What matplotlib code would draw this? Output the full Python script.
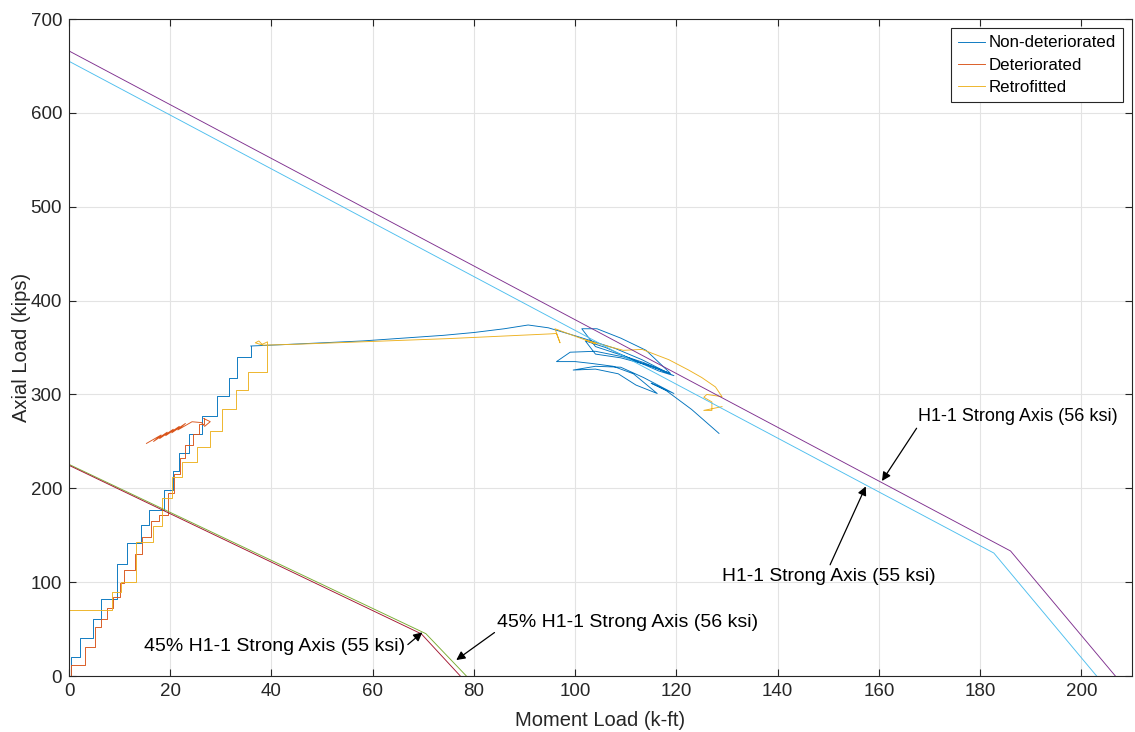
import numpy as np
import matplotlib
matplotlib.use("Agg")
import matplotlib.pyplot as plt

plt.rcParams['font.family'] = ['Liberation Sans', 'DejaVu Sans']

# ---- Non-deteriorated column response ----
nd_step_x = [0, 0.3, 2.2, 4.7, 6.4, 9.4, 11.4, 14.2, 15.9, 18.7, 20.5, 21.8, 23.8, 26.3, 29.3, 31.6, 33.2, 35.9]
nd_step_y = [0, 20.6, 40, 60.7, 82, 119.3, 142, 160.5, 177, 198, 218, 238, 257.5, 277, 298.6, 317.8, 340, 351.6]
nd_path_x = [35.9, 42, 50, 58, 66, 74, 80, 86, 90.7, 94.7, 100.6, 107.9, 113.2, 118.5,
             113.5, 108.5, 104.0, 101.3, 104.3, 109.0, 114.0, 118.8, 114.5, 109.0, 104.0,
             102.0, 106.0, 111.0, 116.5, 119.5, 115.0, 109.5, 104.0, 99.0, 96.3, 100.0,
             103.3, 107.5, 111.5, 116.2, 112.0, 108.5, 104.0, 99.6, 104.0, 109.0, 113.5,
             119.5, 115.0, 118.0, 123.0, 128.4]
nd_path_y = [351.6, 353, 355, 357, 360, 363, 366, 370, 374, 371, 361.5, 349, 337, 322.5,
             334, 343, 351, 370, 370, 360, 347, 322.5, 331, 339, 343,
             357, 350, 338, 325, 320, 330, 340, 346, 345, 335, 335,
             333, 330, 322, 301, 310, 322, 327, 326, 330, 329, 318,
             301, 312, 304, 284, 258.5]

# ---- Deteriorated column response ----
det_step_x = [0, 0.3, 3.2, 5.1, 6.4, 7.5, 8.7, 10.0, 10.8, 13.0, 14.5, 16.2, 17.8, 19.6,
              20.8, 21.9, 23.0, 24.5, 25.6, 26.6]
det_step_y = [0, 11.7, 31, 51.8, 60.7, 72, 83.7, 98.6, 113, 130, 148, 165, 172, 195,
              215, 232, 246, 258, 268, 274.4]
det_tail_x = [26.6, 27.9, 26.8, 26.2, 24.3, 21.5, 23.0, 20.3, 21.8, 19.1, 20.6, 17.9,
              19.4, 16.7, 18.2, 15.3]
det_tail_y = [274.4, 271, 266, 270, 270.9, 262.2, 269.1, 259.1, 266.0, 256.1, 262.9, 253.0,
              259.8, 249.9, 256.8, 247.8]

# ---- Retrofitted column response ----
rf_step_x = [0, 8.5, 10.2, 13.3, 16.5, 18.4, 20.4, 22.4, 25.3, 27.8, 30.3, 32.9, 35.3, 39.2]
rf_step_y = [70.5, 90, 100, 143, 160, 190, 212, 228, 244, 261, 285, 304.7, 324, 356]
rf_path_x = [39.2, 38.0, 36.8, 37.5, 38.3, 45, 55, 65, 75, 85, 95, 96.3, 97.0, 96.0,
             100, 104, 102, 106, 109.5, 113.2, 118.5, 122.4, 125, 127.7, 129, 126,
             125.4, 127, 127, 125.4, 129]
rf_path_y = [356, 353, 355, 357, 352.5, 353.5, 355.5, 357.5, 359.5, 362, 364.5, 365, 355, 370,
             362, 354, 358, 352, 347, 348, 337, 326, 318, 308, 297.6, 300,
             297, 292, 283, 283, 287]

# ---- AISC H1-1 strong-axis interaction envelopes ----
h1_56_x = [0, 186.0, 206.7]
h1_56_y = [666, 133.2, 0]
h1_55_x = [0, 182.7, 203.0]
h1_55_y = [655, 131, 0]
h1_45_56_x = [0, 70.5, 78.5]
h1_45_56_y = [225.5, 45.1, 0]
h1_45_55_x = [0, 69.6, 77.3]
h1_45_55_y = [224.5, 44.9, 0]

xticks = [0, 20, 40, 60, 80, 100, 120, 140, 160, 180, 200]
yticks = [0, 100, 200, 300, 400, 500, 600, 700]

c_blue = '#0072BD'
c_orange = '#D95319'
c_yellow = '#EDB120'
c_purple = '#7E2F8E'
c_cyan = '#4DBEEE'
c_green = '#77AC30'
c_red = '#A2142F'
ink = '#262626'

fig = plt.figure(figsize=(11.35, 7.32), dpi=100)
ax = fig.add_axes([0.0608, 0.0765, 0.9366, 0.8975])

lw = 0.65
ax.plot(nd_step_x, nd_step_y, drawstyle='steps-post', color=c_blue, lw=lw, label='Non-deteriorated')
ax.plot(nd_path_x, nd_path_y, color=c_blue, lw=lw)
ax.plot(det_step_x, det_step_y, drawstyle='steps-post', color=c_orange, lw=lw, label='Deteriorated')
ax.plot(det_tail_x, det_tail_y, color=c_orange, lw=lw)
ax.plot(rf_step_x, rf_step_y, drawstyle='steps-post', color=c_yellow, lw=lw, label='Retrofitted')
ax.plot(rf_path_x, rf_path_y, color=c_yellow, lw=lw)

ax.plot(h1_56_x, h1_56_y, color=c_purple, lw=lw)
ax.plot(h1_55_x, h1_55_y, color=c_cyan, lw=lw)
ax.plot(h1_45_56_x, h1_45_56_y, color=c_green, lw=lw)
ax.plot(h1_45_55_x, h1_45_55_y, color=c_red, lw=lw)

arrow = dict(arrowstyle='-|>', color='black', lw=0.9, mutation_scale=13, shrinkA=0, shrinkB=0)
ax.annotate('H1-1 Strong Axis (56 ksi)', xy=(160.6, 207.8), xytext=(167.8, 276),
            ha='left', va='center', fontsize=13, color='black',
            arrowprops=dict(arrow, relpos=(0.0, 0.0)))
ax.annotate('H1-1 Strong Axis (55 ksi)', xy=(157.4, 202), xytext=(129.0, 106.5),
            ha='left', va='center', fontsize=13.9, color='black',
            arrowprops=dict(arrow, relpos=(0.5, 1.0)))
ax.annotate('45% H1-1 Strong Axis (55 ksi)', xy=(69.8, 46.5), xytext=(14.8, 31),
            ha='left', va='center', fontsize=14, color='black',
            arrowprops=dict(arrow, relpos=(1.0, 0.5)))
ax.annotate('45% H1-1 Strong Axis (56 ksi)', xy=(76.5, 17), xytext=(84.6, 57.5),
            ha='left', va='center', fontsize=14, color='black',
            arrowprops=dict(arrow, relpos=(0.0, 0.0)))

ax.set_xlim(0, 210)
ax.set_ylim(0, 700)
ax.set_xticks(xticks)
ax.set_yticks(yticks)
ax.grid(True, color='#e3e3e3', lw=0.8)
ax.set_axisbelow(True)
ax.tick_params(direction='in', length=5, width=0.8, colors=ink, labelsize=13.5,
               top=True, right=True, labeltop=False, labelright=False, pad=5)
for s in ax.spines.values():
    s.set_color(ink)
    s.set_linewidth(0.8)

ax.set_xlabel('Moment Load (k-ft)', fontsize=14.5, color=ink, labelpad=8)
ax.set_ylabel('Axial Load (kips)', fontsize=14.5, color=ink, labelpad=0)

leg = ax.legend(loc='upper right', fontsize=12.2, frameon=True, fancybox=False,
                edgecolor=ink, framealpha=1, handlelength=1.6, handletextpad=0.2,
                labelspacing=0.42, borderpad=0.42, borderaxespad=0.55)
leg.get_frame().set_linewidth(0.8)

fig.savefig('out.png', dpi=100)
